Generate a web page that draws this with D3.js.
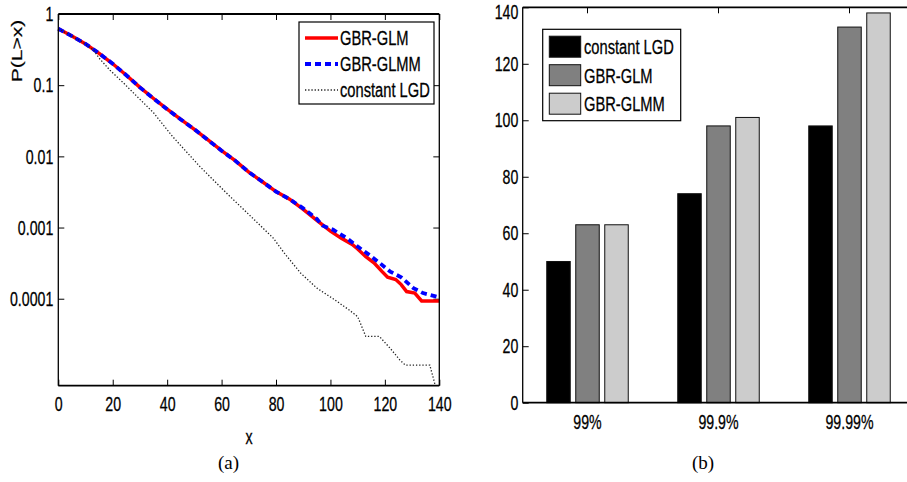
<!DOCTYPE html>
<html lang="en">
<head>
<meta charset="utf-8">
<title>Loss tail and VaR</title>
<script src="https://cdn.jsdelivr.net/npm/d3@7"></script>
<style>
  body { margin: 0; background: #fff; }
  text { font-family: "Liberation Sans", Arial, sans-serif; fill: #000; stroke: #000; stroke-width: 0.3px; }
  .cap { font-family: "Liberation Serif", "DejaVu Serif", serif; stroke: none; }
</style>
</head>
<body>
<script>

// (a) tail probabilities P(L>x)
var glmX  = [0, 5, 10, 15, 20, 25, 30, 35, 40, 45, 50, 55, 60, 65, 70, 75, 80, 85, 90, 95, 100,
             104, 108, 110, 113, 116, 119, 121, 124, 126, 128, 131, 133.5, 140];
var glmP  = [0.62, 0.49, 0.38, 0.28, 0.20, 0.138, 0.093, 0.065, 0.046, 0.033, 0.024, 0.017, 0.012,
             0.0087, 0.0060, 0.0044, 0.0032, 0.0025, 0.0018, 0.00126, 0.00089,
             0.00071, 0.00058, 0.00050, 0.00039, 0.00032, 0.00024, 0.00020, 0.000186, 0.000158,
             0.000126, 0.000120, 0.000093, 0.000093];
var glmmX = [0, 5, 10, 15, 20, 25, 30, 35, 40, 45, 50, 55, 60, 65, 70, 75, 80, 85, 90, 95, 97,
             101, 106, 110, 114, 118, 122, 126, 130.5, 134, 139, 140];
var glmmP = [0.62, 0.49, 0.38, 0.28, 0.20, 0.138, 0.093, 0.065, 0.046, 0.033, 0.024, 0.017, 0.012,
             0.0087, 0.0060, 0.0044, 0.0032, 0.0025, 0.00186, 0.00132, 0.00107,
             0.00093, 0.00071, 0.00054, 0.00042, 0.00032, 0.00024, 0.00020, 0.000141, 0.000120,
             0.000107, 0.000105];
var lgdX  = [0, 5, 10, 13, 15, 19, 24, 29, 35, 42, 52, 62, 72, 79, 83, 89, 95, 101, 107, 110,
             113, 118, 122, 125.5, 127.5, 136.5, 138, 138.5];
var lgdP  = [0.62, 0.49, 0.38, 0.31, 0.24, 0.162, 0.107, 0.069, 0.041, 0.019, 0.0072, 0.0030,
             0.00129, 0.00071, 0.00044, 0.00023, 0.000141, 0.000100, 0.000069, 0.000056,
             0.0000295, 0.0000295, 0.0000200, 0.0000138, 0.0000117, 0.0000117, 0.0000072, 0.0000060];
var xTicksA = [0, 20, 40, 60, 80, 100, 120, 140];
var yTicksA = [1, 0.1, 0.01, 0.001, 0.0001];

// (b) VaR per quantile
var quantiles = ["99%", "99.9%", "99.99%"];
var models = ["constant LGD", "GBR-GLM", "GBR-GLMM"];
var lgdVaR  = [50, 74, 98];
var glmVaR  = [63, 98, 133];
var glmmVaR = [63, 101, 138];
var yTicksB = [0, 20, 40, 60, 80, 100, 120, 140];

var barFill = ["#000000", "#808080", "#cccccc"];

// the exported figure is squeezed horizontally, so text is too
var fs = 21;
var sqTick = 0.675, sqLeg = 0.70;

var svg = d3.select("body").append("svg")
    .attr("width", 907)
    .attr("height", 482);

function txt(g, x, y, s, anchor, sq) {
    return g.append("text")
        .attr("transform", "translate(" + x + "," + y + ") scale(" + sq + ",1)")
        .attr("text-anchor", anchor || "start")
        .attr("dy", "0.35em")
        .style("font-size", fs + "px")
        .text(s);
}

function squeezeTicks(g, sq) {
    g.select(".domain").remove();
    g.selectAll(".tick line").attr("stroke", "#000");
    g.selectAll("text")
        .style("font-size", fs + "px")
        .attr("fill", "#000")
        .attr("transform", "scale(" + sq + ",1)")
        .each(function() {
            var x = this.getAttribute("x");
            if (x !== null) d3.select(this).attr("x", +x / sq);
        });
}

function frame(g, x0, x1, y0, y1) {
    g.append("line").attr("x1", x0).attr("x2", x1).attr("y1", y0).attr("y2", y0).attr("stroke", "#000").attr("stroke-width", 1.8);
    g.append("line").attr("x1", x0).attr("x2", x1).attr("y1", y1).attr("y2", y1).attr("stroke", "#000").attr("stroke-width", 1.8);
    g.append("line").attr("x1", x0).attr("x2", x0).attr("y1", y0).attr("y2", y1).attr("stroke", "#000").attr("stroke-width", 1.3);
    g.append("line").attr("x1", x1).attr("x2", x1).attr("y1", y0).attr("y2", y1).attr("stroke", "#000").attr("stroke-width", 1.3);
}

//////////////////////////////
// (a) log tail plot
//////////////////////////////
var ga = svg.append("g");
var xa = d3.scaleLinear().domain([0, 140]).range([58.3, 439.3]);
var ya = d3.scaleLog().domain([6.0e-6, 1]).range([385.7, 14]);

ga.append("g").attr("transform", "translate(0," + ya.range()[0] + ")")
    .call(d3.axisBottom(xa).tickValues(xTicksA).tickSizeInner(-6).tickSizeOuter(0).tickPadding(10))
    .call(squeezeTicks, sqTick);
ga.append("g").attr("transform", "translate(0," + ya.range()[1] + ")")
    .call(d3.axisTop(xa).tickValues(xTicksA).tickSizeInner(-6).tickSizeOuter(0).tickFormat(""))
    .call(squeezeTicks, sqTick);
ga.append("g").attr("transform", "translate(" + xa.range()[0] + ",0)")
    .call(d3.axisLeft(ya).tickValues(yTicksA).tickFormat(function(d) { return String(d); })
        .tickSizeInner(-6).tickSizeOuter(0).tickPadding(5))
    .call(squeezeTicks, sqTick);
ga.append("g").attr("transform", "translate(" + xa.range()[1] + ",0)")
    .call(d3.axisRight(ya).tickValues(yTicksA).tickFormat("").tickSizeInner(-6).tickSizeOuter(0))
    .call(squeezeTicks, sqTick);

var line = d3.line()
    .x(function(d) { return xa(d[0]); })
    .y(function(d) { return ya(d[1]); });

ga.append("path").datum(d3.zip(glmX, glmP)).attr("d", line)
    .attr("fill", "none").attr("stroke", "#ff0000").attr("stroke-width", 3.5);
ga.append("path").datum(d3.zip(glmmX, glmmP)).attr("d", line)
    .attr("fill", "none").attr("stroke", "#0000ff").attr("stroke-width", 3.8)
    .attr("stroke-dasharray", "6,4");
ga.append("path").datum(d3.zip(lgdX, lgdP)).attr("d", line)
    .attr("fill", "none").attr("stroke", "#222").attr("stroke-width", 1.3)
    .attr("stroke-dasharray", "1.3,1.9");

frame(ga, xa.range()[0], xa.range()[1], ya.range()[1], ya.range()[0]);

// axis labels
ga.append("text")
    .attr("transform", "translate(22,51) scale(" + sqTick + ",1) rotate(-90)")
    .attr("text-anchor", "middle")
    .style("font-size", "21px")
    .text("P(L>x)");
txt(ga, 249, 437, "x", "middle", sqTick);

// legend (a)
var la = ga.append("g");
la.append("rect").attr("x", 299).attr("y", 22).attr("width", 135).attr("height", 82)
    .attr("fill", "#fff").attr("stroke", "#000").attr("stroke-width", 1.2);
var legA = [
    { name: "GBR-GLM", color: "#ff0000", w: 3.5, dash: null },
    { name: "GBR-GLMM", color: "#0000ff", w: 3.8, dash: "6,4" },
    { name: "constant LGD", color: "#222", w: 1.3, dash: "1.3,1.9" }
];
legA.forEach(function(d, i) {
    var y = 38 + i * 26;
    la.append("line").attr("x1", 305).attr("x2", 338).attr("y1", y).attr("y2", y)
        .attr("stroke", d.color).attr("stroke-width", d.w)
        .attr("stroke-dasharray", d.dash);
    txt(la, 340, y, d.name, "start", sqLeg);
});

//////////////////////////////
// (b) grouped bars
//////////////////////////////
var gb = svg.append("g");
var xb = d3.scaleBand().domain(quantiles).range([522, 915]);
var xg = d3.scaleBand().domain(models).range([-40.75, 40.75]).paddingInner(0.19);
var yb = d3.scaleLinear().domain([0, 140]).range([402.7, 7.3]);

gb.append("g").attr("transform", "translate(0," + yb.range()[0] + ")")
    .call(d3.axisBottom(xb).tickSizeInner(-6).tickSizeOuter(0).tickPadding(11.5))
    .call(squeezeTicks, sqTick);
gb.append("g").attr("transform", "translate(0," + yb.range()[1] + ")")
    .call(d3.axisTop(xb).tickSizeInner(-6).tickSizeOuter(0).tickFormat(""))
    .call(squeezeTicks, sqTick);
var yAxB = gb.append("g").attr("transform", "translate(522.7,0)")
    .call(d3.axisLeft(yb).tickValues(yTicksB).tickSizeInner(-6).tickSizeOuter(0).tickPadding(4.4))
    .call(squeezeTicks, sqTick);
// top label sits on the page edge, nudge it in
yAxB.selectAll(".tick text").filter(function(d) { return d === 140; }).attr("dy", "0.52em");

var series = [lgdVaR, glmVaR, glmmVaR];
var barData = [];
quantiles.forEach(function(q, i) {
    models.forEach(function(m, j) {
        barData.push({ q: q, m: m, j: j, v: series[j][i] });
    });
});

gb.append("g").selectAll("rect")
    .data(barData)
    .enter()
    .append("rect")
    .attr("x", function(d) { return xb(d.q) + xb.bandwidth() / 2 + xg(d.m); })
    .attr("y", function(d) { return yb(d.v); })
    .attr("width", xg.bandwidth())
    .attr("height", function(d) { return yb(0) - yb(d.v); })
    .attr("fill", function(d) { return barFill[d.j]; })
    .attr("stroke", "#111")
    .attr("stroke-width", 1);

frame(gb, 522.7, 915, yb.range()[1], yb.range()[0]);

// legend (b)
var lb = gb.append("g");
lb.append("rect").attr("x", 542.7).attr("y", 29.3).attr("width", 138).attr("height", 91.4)
    .attr("fill", "#fff").attr("stroke", "#000").attr("stroke-width", 1.2);
models.forEach(function(m, j) {
    var y = 46.7 + j * 28.5;
    lb.append("rect").attr("x", 549.3).attr("y", y - 10.5).attr("width", 31.4).attr("height", 21)
        .attr("fill", barFill[j]).attr("stroke", "#111").attr("stroke-width", 1);
    txt(lb, 584, y, m, "start", sqLeg);
});

// captions
svg.append("text").attr("class", "cap").attr("x", 228.5).attr("y", 469)
    .attr("text-anchor", "middle").style("font-size", "19px").text("(a)");
svg.append("text").attr("class", "cap").attr("x", 703).attr("y", 469)
    .attr("text-anchor", "middle").style("font-size", "19px").text("(b)");

</script>
</body>
</html>
